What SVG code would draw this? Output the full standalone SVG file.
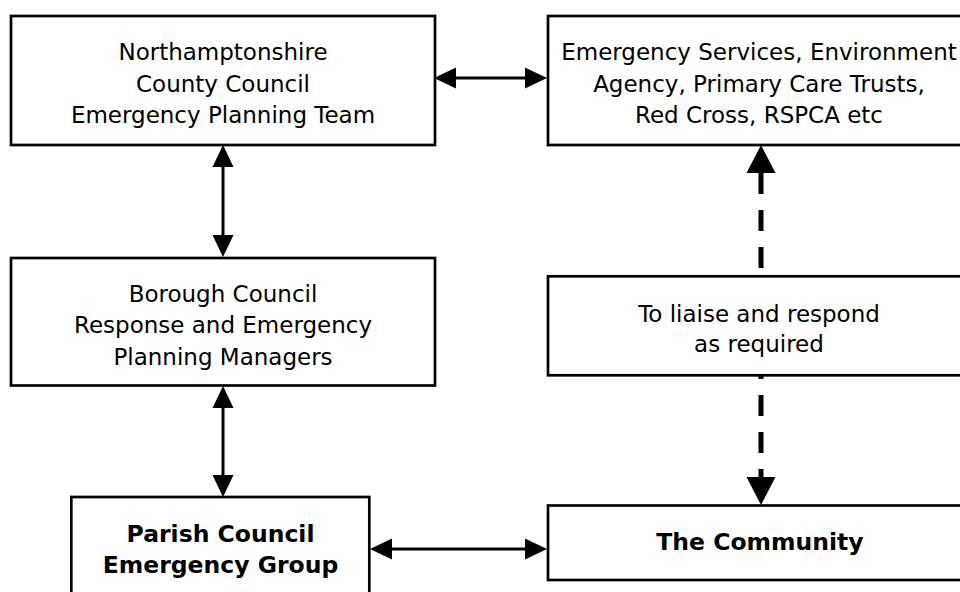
<svg xmlns="http://www.w3.org/2000/svg" width="960" height="592" viewBox="0 0 960 592">
  <style>
    .box { fill: #ffffff; stroke: #000000; stroke-width: 2.7; }
    .t { font-family: "DejaVu Sans", Verdana, sans-serif; font-size: 23px; fill: #000000; text-anchor: middle; }
    .b { font-weight: bold; font-size: 23.5px; }
    .conn { fill: none; stroke: #000000; stroke-width: 3; }
    .dash { fill: none; stroke: #000000; stroke-width: 5; stroke-dasharray: 21 16; }
  </style>
  <defs>
    <marker id="head" markerUnits="userSpaceOnUse" markerWidth="22" markerHeight="21" refX="0" refY="10.5" orient="auto-start-reverse" overflow="visible">
      <path d="M0,0 L22,10.5 L0,21 Z" fill="#000000"/>
    </marker>
    <marker id="headD" markerUnits="userSpaceOnUse" markerWidth="28" markerHeight="29" refX="0" refY="14.5" orient="auto-start-reverse" overflow="visible">
      <path d="M0,0 L28,14.5 L0,29 Z" fill="#000000"/>
    </marker>
  </defs>
  <rect width="960" height="592" fill="#ffffff"/>

  <g id="connectors">
    <path class="conn" d="M456,78 L525,78" marker-start="url(#head)" marker-end="url(#head)"/>
    <path class="conn" d="M223,167 L223,235" marker-start="url(#head)" marker-end="url(#head)"/>
    <path class="conn" d="M223,408 L223,475" marker-start="url(#head)" marker-end="url(#head)"/>
    <path class="conn" d="M392,549 L525,549" marker-start="url(#head)" marker-end="url(#head)"/>
    <path class="dash" d="M761,173 L761,276" marker-start="url(#headD)"/>
    <path class="dash" style="stroke-dashoffset:17" d="M761,375 L761,477" marker-end="url(#headD)"/>
  </g>

  <g id="county">
    <rect class="box" x="11" y="16" width="424" height="129"/>
    <text class="t" x="223" y="60">Northamptonshire</text>
    <text class="t" x="223" y="91.5">County Council</text>
    <text class="t" x="223" y="123">Emergency Planning Team</text>
  </g>

  <g id="services">
    <rect class="box" x="548" y="16" width="424" height="129"/>
    <text class="t" x="759" y="60">Emergency Services, Environment</text>
    <text class="t" x="759" y="91.5">Agency, Primary Care Trusts,</text>
    <text class="t" x="759" y="123">Red Cross, RSPCA etc</text>
  </g>

  <g id="borough">
    <rect class="box" x="11" y="258" width="424" height="127.5"/>
    <text class="t" x="223" y="301.5">Borough Council</text>
    <text class="t" x="223" y="333">Response and Emergency</text>
    <text class="t" x="223" y="364.5">Planning Managers</text>
  </g>

  <g id="liaise">
    <rect class="box" x="548" y="276.3" width="424" height="99"/>
    <text class="t" x="759" y="321.5">To liaise and respond</text>
    <text class="t" x="759" y="352">as required</text>
  </g>

  <g id="parish">
    <rect class="box" x="71.3" y="497" width="298" height="130"/>
    <text class="t b" x="220.5" y="541.5">Parish Council</text>
    <text class="t b" x="220.5" y="573">Emergency Group</text>
  </g>

  <g id="community">
    <rect class="box" x="548" y="505.5" width="424" height="74.5"/>
    <text class="t b" x="760" y="550">The Community</text>
  </g>
</svg>
